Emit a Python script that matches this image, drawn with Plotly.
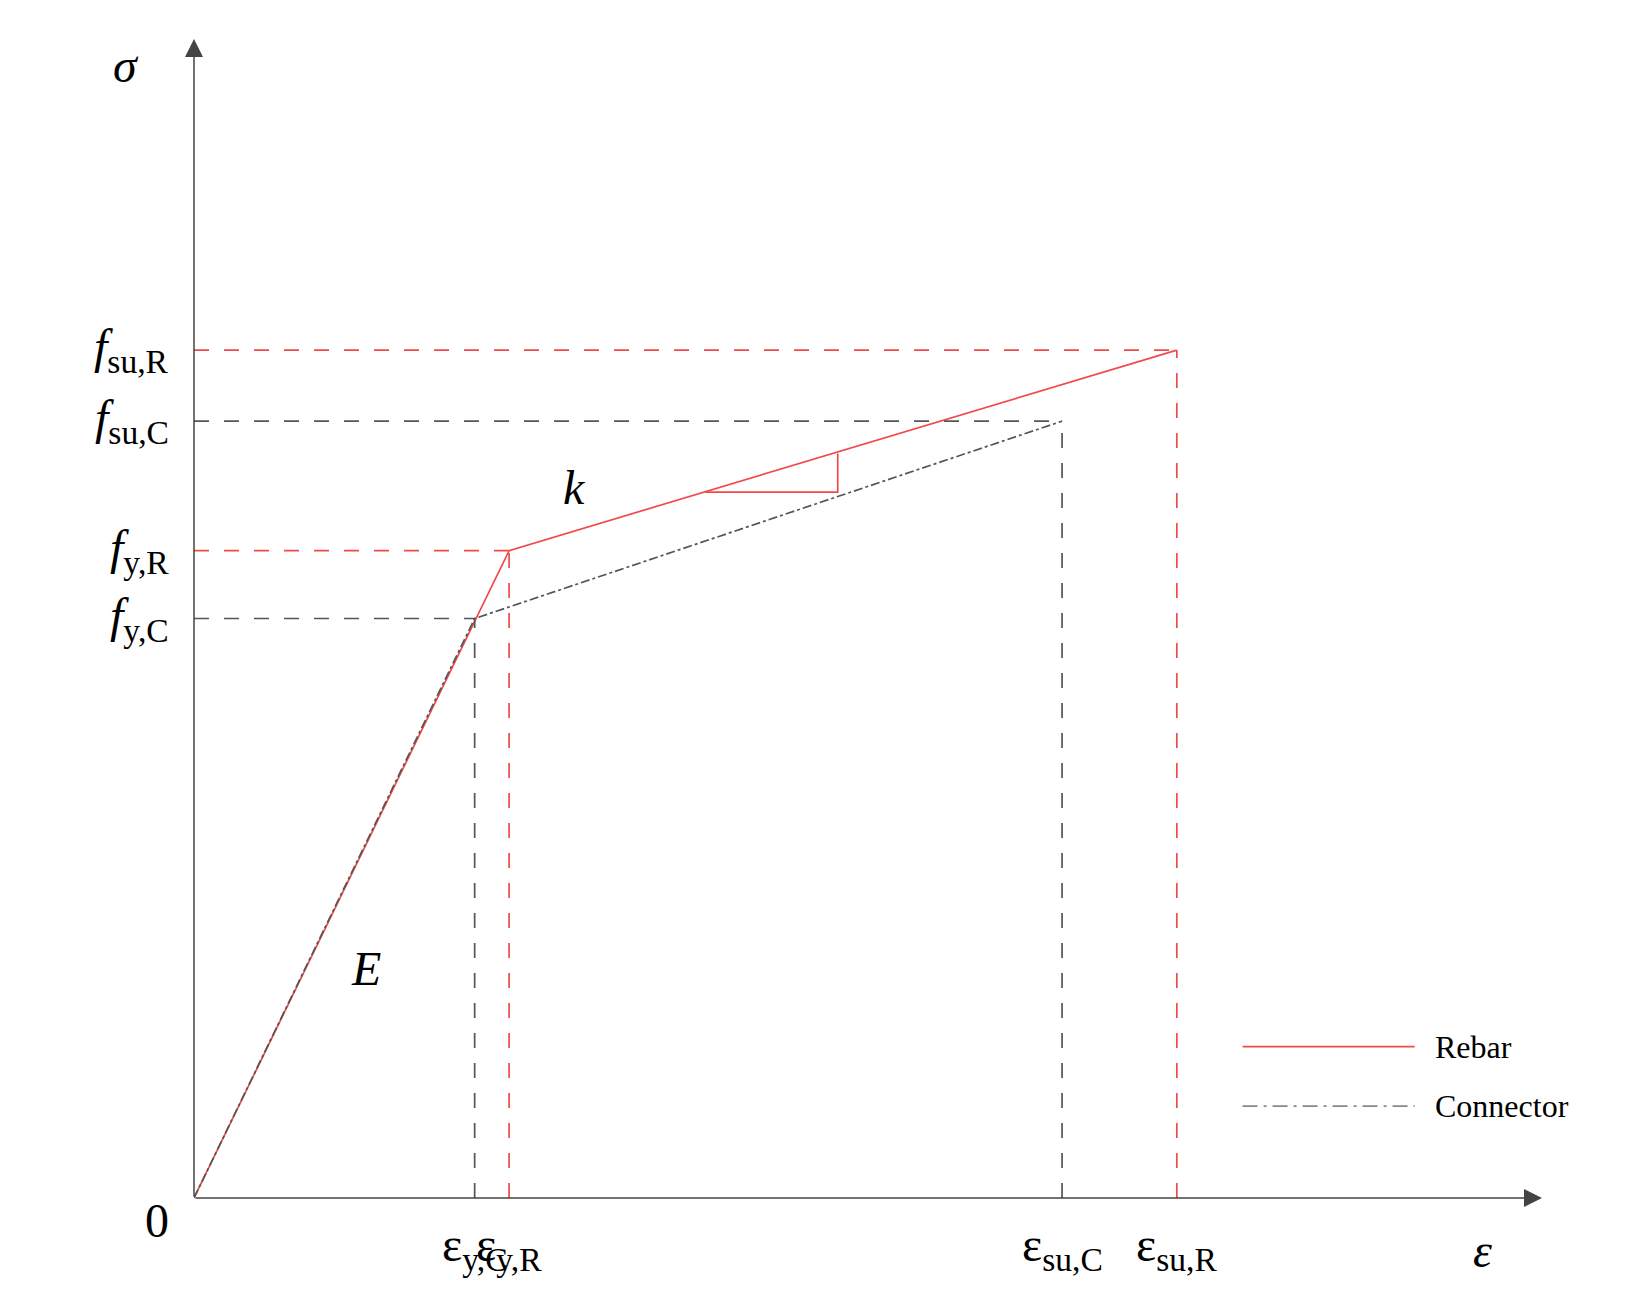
import plotly.graph_objects as go

# data (strain, stress in arbitrary units)
eps_labels = ["ε<sub>y,C</sub>", "ε<sub>y,R</sub>", "ε<sub>su,C</sub>", "ε<sub>su,R</sub>"]
sig_labels = ["<i>f</i><sub>su,R</sub>", "<i>f</i><sub>su,C</sub>", "<i>f</i><sub>y,R</sub>", "<i>f</i><sub>y,C</sub>"]
rebar_eps = [0, 302, 942]
rebar_sig = [0, 620, 812]
conn_eps = [0, 269, 832]
conn_sig = [0, 555, 744]
tri_eps = [490, 617, 617]
tri_sig = [676, 676, 713]

XMAX, YMAX = 1292, 1110
fig = go.Figure()
red = "#f04a4a"
grey = "#555555"
serif = "Liberation Serif"

def dline(x0, y0, x1, y1, c):
    fig.add_shape(type="line", x0=x0, y0=y0, x1=x1, y1=y1, xref="x", yref="y",
                  line=dict(color=c, width=1.7, dash="longdash"))

dline(0, conn_sig[1], conn_eps[1], conn_sig[1], grey)
dline(conn_eps[1], 0, conn_eps[1], conn_sig[1], grey)
dline(0, conn_sig[2], conn_eps[2], conn_sig[2], grey)
dline(conn_eps[2], 0, conn_eps[2], conn_sig[2], grey)
dline(0, rebar_sig[1], rebar_eps[1], rebar_sig[1], red)
dline(rebar_eps[1], 0, rebar_eps[1], rebar_sig[1], red)
dline(0, rebar_sig[2], rebar_eps[2], rebar_sig[2], red)
dline(rebar_eps[2], 0, rebar_eps[2], rebar_sig[2], red)

fig.add_trace(go.Scatter(x=rebar_eps, y=rebar_sig, mode="lines", line=dict(color=red, width=1.7), name="Rebar"))
fig.add_trace(go.Scatter(x=conn_eps, y=conn_sig, mode="lines", line=dict(color=grey, width=1.7, dash="dashdot"), name="Connector"))
fig.add_trace(go.Scatter(x=tri_eps, y=tri_sig, mode="lines", line=dict(color=red, width=1.7)))

fig.add_annotation(x=XMAX, y=0, ax=0, ay=0, axref="x", ayref="y", xref="x", yref="y",
                   showarrow=True, arrowhead=2, arrowsize=2.4, arrowwidth=1.5, arrowcolor="#444", text="")
fig.add_annotation(x=0, y=YMAX, ax=0, ay=0, axref="x", ayref="y", xref="x", yref="y",
                   showarrow=True, arrowhead=2, arrowsize=2.4, arrowwidth=1.5, arrowcolor="#444", text="")

fs = 48
def txt(x, y, t, xa="center", ya="middle", size=fs):
    fig.add_annotation(x=x / XMAX, y=y / YMAX, xref="paper", yref="paper", text=t, showarrow=False,
                       xanchor=xa, yanchor=ya, font=dict(family=serif, size=size, color="black"))

for e, lab in zip([conn_eps[1], rebar_eps[1], conn_eps[2], rebar_eps[2]], eps_labels):
    txt(e, -48, lab)
txt(-22, -22, "0", xa="right")
txt(1235, -50, "<i>ε</i>")
txt(-65, 1085, "<i>σ</i>")
for s, lab in zip([rebar_sig[2], conn_sig[2], rebar_sig[1], conn_sig[1]], sig_labels):
    txt(-22, s, lab, xa="right")
txt(365, 680, "<i>k</i>")
txt(165, 220, "<i>E</i>")

fig.add_shape(type="line", x0=1005, x1=1170, y0=145, y1=145, line=dict(color=red, width=1.6))
fig.add_shape(type="line", x0=1005, x1=1170, y0=88, y1=88, line=dict(color="#888", width=1.6, dash="longdashdot"))
txt(1188, 145, "Rebar", xa="left", size=32)
txt(1188, 88, "Connector", xa="left", size=32)

fig.update_xaxes(range=[0, XMAX], visible=False)
fig.update_yaxes(range=[0, YMAX], visible=False)
fig.update_layout(width=1637, height=1297, margin=dict(l=186, r=103, t=31, b=107),
                  plot_bgcolor="white", paper_bgcolor="white", showlegend=False)
fig.write_html("out.html")
